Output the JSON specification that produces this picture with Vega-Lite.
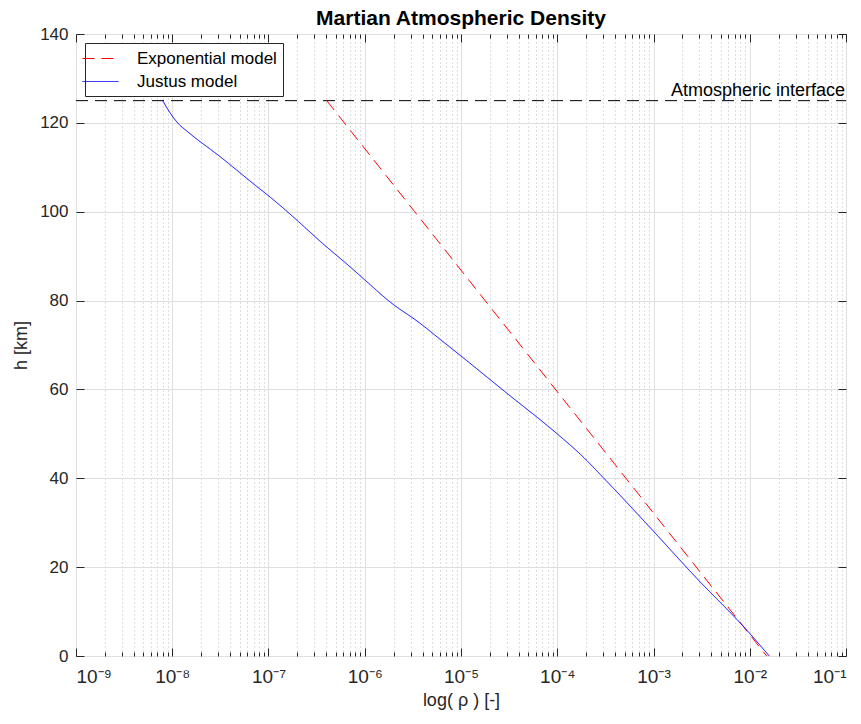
{
  "$schema": "https://vega.github.io/schema/vega-lite/v6.json",
  "width": 770,
  "height": 622,
  "autosize": {"type": "none"},
  "padding": {"left": 76, "top": 34, "right": 15, "bottom": 68},
  "background": "white",
  "title": {"text": "Martian Atmospheric Density", "fontSize": 21, "fontWeight": "bold", "font": "Liberation Sans", "color": "#000000", "anchor": "middle", "offset": -4},
  "config": {
    "font": "Liberation Sans",
    "view": {"stroke": "#262626", "strokeWidth": 1},
    "axis": {"domain": false, "labelFont": "Liberation Sans", "titleFont": "Liberation Sans", "labelColor": "#262626", "titleColor": "#262626", "tickColor": "#262626", "titleFontWeight": "normal"},
    "legend": {"labelFont": "Liberation Sans"}
  },
  "datasets": {
    "lines": [
      {"model": "Exponential model", "h": 0, "rho": 0.0150},
      {"model": "Exponential model", "h": 25, "rho": 0.001828},
      {"model": "Exponential model", "h": 50, "rho": 0.0002228},
      {"model": "Exponential model", "h": 75, "rho": 0.0000271},
      {"model": "Exponential model", "h": 100, "rho": 0.000003304},
      {"model": "Exponential model", "h": 125, "rho": 0.0000004027},
      {"model": "Justus model", "h": 0, "rho": 0.01596},
      {"model": "Justus model", "h": 5.85, "rho": 0.00929},
      {"model": "Justus model", "h": 17.5, "rho": 0.00281},
      {"model": "Justus model", "h": 29.5, "rho": 0.00087},
      {"model": "Justus model", "h": 39.6, "rho": 0.000318},
      {"model": "Justus model", "h": 45.5, "rho": 0.000172},
      {"model": "Justus model", "h": 50.1, "rho": 0.0000986},
      {"model": "Justus model", "h": 59.5, "rho": 0.0000286},
      {"model": "Justus model", "h": 67.7, "rho": 0.00000977},
      {"model": "Justus model", "h": 71.3, "rho": 0.00000605},
      {"model": "Justus model", "h": 74.9, "rho": 0.00000375},
      {"model": "Justus model", "h": 79.7, "rho": 0.00000183},
      {"model": "Justus model", "h": 84.6, "rho": 0.000001007},
      {"model": "Justus model", "h": 87.6, "rho": 0.000000703},
      {"model": "Justus model", "h": 92.9, "rho": 0.000000363},
      {"model": "Justus model", "h": 98.5, "rho": 0.000000188},
      {"model": "Justus model", "h": 103.0, "rho": 0.000000108},
      {"model": "Justus model", "h": 106.0, "rho": 0.0000000724},
      {"model": "Justus model", "h": 109.0, "rho": 0.000000049},
      {"model": "Justus model", "h": 112.0, "rho": 0.0000000331},
      {"model": "Justus model", "h": 114.0, "rho": 0.0000000251},
      {"model": "Justus model", "h": 116.1, "rho": 0.0000000186},
      {"model": "Justus model", "h": 118.0, "rho": 0.00000001445},
      {"model": "Justus model", "h": 119.9, "rho": 0.00000001148},
      {"model": "Justus model", "h": 122.5, "rho": 0.00000000933},
      {"model": "Justus model", "h": 125.0, "rho": 0.00000000796}
    ]
  },
  "resolve": {"scale": {"x": "shared", "y": "shared"}, "axis": {"x": "independent", "y": "independent"}},
  "layer": [
    {
      "data": {"name": "lines"},
      "mark": {"type": "line", "strokeWidth": 1, "opacity": 0},
      "encoding": {
        "x": {"field": "rho", "type": "quantitative", "scale": {"type": "log", "domain": [1e-9, 0.1], "nice": false},
          "axis": {"orient": "bottom", "values": [2e-9,3e-9,4e-9,5e-9,6e-9,7e-9,8e-9,9e-9,2e-8,3e-8,4e-8,5e-8,6e-8,7e-8,8e-8,9e-8,2e-7,3e-7,4e-7,5e-7,6e-7,7e-7,8e-7,9e-7,2e-6,3e-6,4e-6,5e-6,6e-6,7e-6,8e-6,9e-6,2e-5,3e-5,4e-5,5e-5,6e-5,7e-5,8e-5,9e-5,2e-4,3e-4,4e-4,5e-4,6e-4,7e-4,8e-4,9e-4,2e-3,3e-3,4e-3,5e-3,6e-3,7e-3,8e-3,9e-3,2e-2,3e-2,4e-2,5e-2,6e-2,7e-2,8e-2,9e-2],
            "labels": false, "title": null, "tickSize": -4, "grid": true, "gridDash": [1, 3], "gridColor": "#bdbdbd", "gridWidth": 1}},
        "y": {"field": "h", "type": "quantitative", "scale": {"domain": [0, 140], "nice": false},
          "axis": {"orient": "right", "values": [0,20,40,60,80,100,120,140], "labels": false, "title": null, "tickSize": -8, "grid": false}}
      }
    },
    {
      "data": {"name": "lines"},
      "mark": {"type": "line", "strokeWidth": 1, "opacity": 0},
      "encoding": {
        "x": {"field": "rho", "type": "quantitative",
          "axis": {"orient": "top", "values": [2e-9,3e-9,4e-9,5e-9,6e-9,7e-9,8e-9,9e-9,2e-8,3e-8,4e-8,5e-8,6e-8,7e-8,8e-8,9e-8,2e-7,3e-7,4e-7,5e-7,6e-7,7e-7,8e-7,9e-7,2e-6,3e-6,4e-6,5e-6,6e-6,7e-6,8e-6,9e-6,2e-5,3e-5,4e-5,5e-5,6e-5,7e-5,8e-5,9e-5,2e-4,3e-4,4e-4,5e-4,6e-4,7e-4,8e-4,9e-4,2e-3,3e-3,4e-3,5e-3,6e-3,7e-3,8e-3,9e-3,2e-2,3e-2,4e-2,5e-2,6e-2,7e-2,8e-2,9e-2],
            "labels": false, "title": null, "tickSize": -4, "grid": false}},
        "y": {"field": "h", "type": "quantitative", "axis": null}
      }
    },
    {
      "data": {"values": [{"label": "Atmospheric interface", "h": 125, "x0": 1e-9, "x1": 0.1}]},
      "mark": {"type": "rule", "color": "#000000", "strokeWidth": 1, "strokeDash": [12, 7]},
      "encoding": {
        "x": {"field": "x0", "type": "quantitative",
          "axis": {"orient": "top", "values": [1e-9,1e-8,1e-7,1e-6,1e-5,1e-4,1e-3,1e-2,1e-1], "labels": false, "title": null, "tickSize": -8, "grid": false}},
        "x2": {"field": "x1"},
        "y": {"field": "h", "type": "quantitative", "axis": null}
      }
    },
    {
      "data": {"name": "lines"},
      "mark": {"type": "line", "strokeWidth": 1, "interpolate": "monotone"},
      "encoding": {
        "x": {"field": "rho", "type": "quantitative",
          "axis": {"orient": "bottom", "values": [1e-9,1e-8,1e-7,1e-6,1e-5,1e-4,1e-3,1e-2,1e-1], "tickSize": -8, "labelPadding": 19, "labelFontSize": 19,
            "labelExpr": "'10' + '⁻' + ['⁰','¹','²','³','⁴','⁵','⁶','⁷','⁸','⁹'][-round(log(datum.value)/LN10)]",
            "grid": true, "gridColor": "#dfdfdf", "gridWidth": 1,
            "title": "log( ρ ) [-]", "titleFontSize": 18, "titlePadding": 5}},
        "y": {"field": "h", "type": "quantitative",
          "axis": {"orient": "left", "values": [0,20,40,60,80,100,120,140], "tickSize": -8, "labelPadding": 16, "labelFontSize": 17,
            "grid": true, "gridColor": "#dfdfdf", "gridWidth": 1,
            "title": "h [km]", "titleFontSize": 18, "titlePadding": 9}},
        "color": {"field": "model", "type": "nominal", "scale": {"domain": ["Exponential model", "Justus model"], "range": ["#ff0000", "#0000ff"]},
          "legend": {"title": null, "orient": "top-left", "offset": 9, "fillColor": "white", "strokeColor": "#262626", "padding": 6,
            "labelFontSize": 17, "labelColor": "#000000", "symbolType": "M-2,0H2", "symbolSize": 324, "symbolStrokeWidth": 1, "rowPadding": 5, "labelOffset": 27}},
        "strokeDash": {"field": "model", "type": "nominal", "scale": {"domain": ["Exponential model", "Justus model"], "range": [[12, 7], [1, 0]]},
          "legend": {"title": null, "orient": "top-left"}}
      }
    },
    {
      "data": {"values": [{"label": "Atmospheric interface", "h": 125, "x1": 0.1}]},
      "mark": {"type": "text", "align": "right", "baseline": "alphabetic", "fontSize": 18, "color": "#000000", "dx": -1, "dy": -5},
      "encoding": {
        "text": {"field": "label"},
        "x": {"field": "x1", "type": "quantitative", "axis": null},
        "y": {"field": "h", "type": "quantitative", "axis": null}
      }
    }
  ]
}
